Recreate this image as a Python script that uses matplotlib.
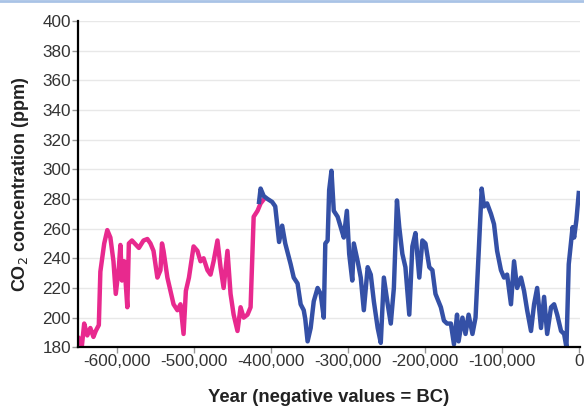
import matplotlib.pyplot as plt
from matplotlib.lines import Line2D
from matplotlib.ticker import FuncFormatter

# EPICA-like older record (pink)
years_old = [-649000, -645000, -642000, -638000, -634000, -630000, -627000, -623000,
             -621000, -616000, -612000, -608000, -604000, -601000, -597000, -595000,
             -593000, -590000, -586000, -584000, -580000, -571000, -565000, -560000,
             -556000, -552000, -547000, -543000, -541000, -539000, -534000, -530000,
             -526000, -521000, -517000, -513000, -510000, -506000, -500000, -495000,
             -491000, -487000, -482000, -478000, -474000, -469000, -465000, -461000,
             -456000, -452000, -448000, -443000, -439000, -435000, -430000, -426000,
             -422000, -417000, -413000, -410000]
co2_old = [186, 181, 196, 188, 193, 187, 191, 195,
           231, 250, 259, 254, 238, 216, 234, 249,
           225, 238, 207, 250, 252, 247, 252, 253,
           250, 245, 227, 232, 250, 245, 227, 218,
           209, 205, 209, 189, 218, 227, 248, 245,
           238, 240, 232, 229, 238, 252, 234, 220,
           245, 216, 202, 191, 207, 200, 202, 207,
           268, 272, 277, 279]

# Vostok-like recent record (blue)
years_new = [-415000, -413000, -409000, -404000, -398000, -394000, -389000, -385000,
             -381000, -374000, -370000, -365000, -361000, -357000, -355000, -352000,
             -348000, -344000, -339000, -335000, -331000, -329000, -326000, -324000,
             -321000, -318000, -313000, -309000, -305000, -301000, -298000, -294000,
             -292000, -287000, -283000, -279000, -274000, -270000, -266000, -261000,
             -257000, -253000, -248000, -244000, -240000, -236000, -233000, -229000,
             -225000, -220000, -216000, -212000, -207000, -203000, -199000, -194000,
             -190000, -186000, -179000, -175000, -171000, -166000, -162000, -158000,
             -156000, -151000, -147000, -143000, -138000, -134000, -130000, -126000,
             -123000, -119000, -114000, -110000, -106000, -101000, -97000, -93000,
             -88000, -84000, -80000, -75000, -71000, -67000, -62000, -58000,
             -54000, -49000, -45000, -41000, -36000, -32000, -28000, -23000,
             -19000, -16000, -13000, -8000, -6000, -3000, 0]
co2_new = [278, 287, 282, 280, 278, 275, 251, 262,
           250, 236, 227, 223, 209, 205, 199, 184,
           193, 211, 220, 216, 200, 250, 252, 286,
           299, 272, 268, 261, 254, 272, 243, 225,
           250, 238, 227, 205, 234, 229, 211, 193,
           183, 227, 209, 196, 220, 279, 261, 243,
           234, 202, 248, 257, 227, 252, 250, 234,
           232, 216, 207, 198, 196, 196, 182, 202,
           184, 200, 189, 202, 189, 200, 243, 287,
           275, 277, 270, 263, 245, 232, 227, 229,
           209, 238, 220, 227, 218, 205, 191, 209,
           220, 193, 214, 189, 207, 209, 202, 191,
           189, 180, 236, 261, 254, 266, 284]

pink = '#e8298e'
blue = '#3450a6'

fig = plt.figure(figsize=(5.84, 4.11), dpi=100)
ax = fig.add_axes([0.1336, 0.155, 0.8594, 0.794])

ax.plot(years_old, co2_old, color=pink, lw=3.2, solid_joinstyle='round')
ax.plot(years_new, co2_new, color=blue, lw=3.2, solid_joinstyle='round')

ax.set_xlim(-650000, 1500)
ax.set_ylim(180, 400)
ax.set_yticks(range(180, 401, 20))
ax.set_xticks(range(-600000, 1, 100000))
ax.xaxis.set_major_formatter(FuncFormatter(lambda v, p: '{:,}'.format(int(v))))

ax.grid(axis='y', color='#e8e8e8', lw=1)
ax.set_axisbelow(True)
for s in ['top', 'right']:
    ax.spines[s].set_visible(False)
ax.spines['left'].set_linewidth(1.6)
ax.spines['bottom'].set_linewidth(1.6)
ax.tick_params(axis='both', colors='#999999', labelcolor='#333333', length=4,
               width=1, labelsize=12.3, pad=1)
for lab in ax.get_xticklabels() + ax.get_yticklabels():
    lab.set_family('Liberation Sans')

ax.set_xlabel('Year (negative values = BC)', fontsize=13.3, fontweight='bold',
              family='Liberation Sans', labelpad=14, color='#222222')
ax.set_ylabel('CO$_2$ concentration (ppm)', fontsize=13, fontweight='bold',
              family='Liberation Sans', labelpad=8, color='#222222')

fig.add_artist(Line2D([0, 1], [0.998, 0.998], transform=fig.transFigure,
                      color='#a9c3e6', lw=2))

plt.savefig('out.png', dpi=100)
